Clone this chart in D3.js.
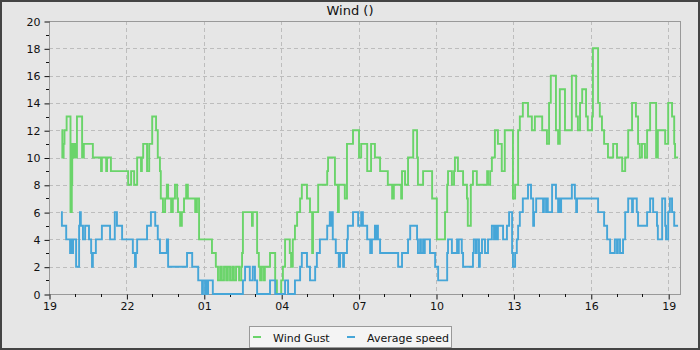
<!DOCTYPE html>
<html><head><meta charset="utf-8">
<script src="https://cdn.jsdelivr.net/npm/d3@7"></script>
<style>html,body{margin:0;padding:0;background:#e6e6e6;}svg{display:block;font-family:"DejaVu Sans",sans-serif;}</style>
</head><body>
<svg id="c" width="700" height="350"></svg>
<script>
const title = "Wind ()";
const seriesNames = ["Wind Gust", "Average speed"];
const seriesColors = ["#6ad46a", "#46a6d8"];
const yTicks = [0,2,4,6,8,10,12,14,16,18,20];
const xTickHours = [0,3,6,9,12,15,18,21,24]; // hours after 19:00 -> labels 19,22,01,...
// minutes after 19:00 where the value changes, and the value from then on
const gustMin = [29,31,34,36,41,50,53,54,57,59,63,65,77,81,102,121,123,133,135,144,184,191,198,205,214,216,219,228,233,240,249,253,258,260,265,270,274,277,284,288,293,298,300,305,309,314,319,323,340,344,349,379,388,393,398,402,407,412,416,421,426,430,435,442,447,449,451,472,474,484,488,491,495,500,502,514,526,530,540,544,549,560,563,567,572,577,584,588,600,607,612,614,626,647,649,665,672,674,688,693,707,721,726,740,749,758,770,788,798,802,819,821,828,835,847,856,858,870,891,902,921,926,928,937,942,944,951,963,972,974,981,986,995,1019,1021,1026,1030,1037,1044,1053,1060,1079,1084,1091,1095,1102,1114,1123,1130,1147,1158,1163,1167,1179,1184,1188,1200,1216,1226,1230,1235,1240,1249,1253,1263,1265,1277,1281,1286,1291,1300,1312,1321,1333,1340,1347,1356,1365,1370,1374,1379,1386,1391,1398,1412,1416,1433,1440,1449,1454,1456,1463];
const gustVal = [12,10,11,12,13,6,8,11,10,11,10,13,10,11,10,9,10,9,10,9,8,9,8,10,9,10,11,9,11,13,12,10,9,7,6,7,8,7,6,7,8,7,6,5,6,7,8,7,6,7,4,3,2,1,2,1,2,1,2,1,2,1,2,1,2,3,6,5,6,3,2,1,2,1,2,3,1,0,1,2,4,3,2,4,5,6,7,8,7,6,3,6,8,9,10,8,6,8,7,11,12,10,11,9,11,10,9,8,7,8,7,9,8,10,12,10,8,9,7,4,6,8,9,8,9,10,9,8,7,5,8,9,8,9,8,9,10,12,11,9,12,7,8,12,13,14,13,12,13,12,11,14,16,12,11,15,12,16,13,12,14,15,13,12,13,18,14,13,12,11,10,11,10,9,10,12,14,13,11,10,11,10,12,14,10,12,11,14,13,11,10,10];
const avgMin = [28,30,40,49,51,53,56,63,70,72,74,79,84,93,98,100,102,109,123,142,153,158,170,195,200,202,205,228,237,247,253,258,274,277,321,333,347,356,358,363,365,367,370,381,451,456,467,474,479,484,514,526,549,556,572,584,588,600,607,619,623,630,647,653,656,658,660,667,674,677,684,686,693,695,707,719,726,730,740,747,751,758,760,763,765,770,812,821,835,840,856,858,863,865,870,872,874,886,898,905,926,928,937,949,951,953,960,963,986,988,993,995,1000,1002,1007,1014,1021,1030,1035,1037,1040,1044,1056,1065,1070,1077,1079,1084,1088,1091,1095,1102,1114,1121,1126,1128,1133,1149,1151,1156,1158,1160,1170,1179,1184,1186,1188,1191,1216,1223,1226,1228,1277,1291,1298,1305,1316,1321,1323,1328,1335,1340,1347,1356,1358,1367,1370,1391,1398,1405,1414,1416,1426,1433,1435,1440,1444,1449,1454,1463];
const avgVal = [6,5,4,3,4,3,4,2,5,6,5,4,5,4,3,2,3,4,5,4,6,5,4,3,2,3,4,5,6,5,4,3,4,2,3,2,1,0,1,0,1,0,1,0,1,2,1,2,1,0,1,0,1,0,1,2,3,2,1,2,3,4,5,6,5,6,4,3,2,3,2,3,4,5,6,5,6,5,4,3,4,5,4,5,4,3,2,3,4,5,4,3,4,3,4,3,4,3,2,1,3,4,3,4,3,4,3,2,3,4,3,4,2,3,4,3,4,5,4,5,4,5,4,5,6,3,2,3,4,5,6,7,8,7,5,6,7,6,7,6,7,6,8,7,6,7,6,7,8,7,6,7,6,5,4,3,4,3,4,3,4,6,7,6,7,6,5,6,7,6,5,4,7,5,4,6,7,6,5,5];

const W = 700, H = 350;
const m = {left: 49, top: 21, right: 680, bottom: 294};
const base = new Date(2020, 0, 1, 19, 0);
const t = mm => new Date(base.getTime() + mm * 60000);
const svg = d3.select("#c");

svg.append("rect").attr("x", 1).attr("y", 1).attr("width", W - 2).attr("height", H - 2)
  .attr("fill", "#e6e6e6").attr("stroke", "#444").attr("stroke-width", 2);

const x = d3.scaleTime().domain([base, t(1467.5)]).range([m.left, m.right]);
const y = d3.scaleLinear().domain([0, 20]).range([m.bottom, m.top]);

const majorX = xTickHours.map(h => t(h * 60));
const minorX = d3.range(0, 25).filter(h => h % 3 !== 0).map(h => t(h * 60));

// grid
svg.append("g").selectAll("line").data(yTicks.filter(v => v > 0 && v < 20)).join("line")
  .attr("x1", m.left).attr("x2", m.right).attr("y1", d => Math.round(y(d)) + 0.5).attr("y2", d => Math.round(y(d)) + 0.5)
  .attr("stroke", "#bdbdbd").attr("stroke-dasharray", "4,3");
svg.append("g").selectAll("line").data(majorX.slice(1)).join("line")
  .attr("x1", d => Math.round(x(d)) + 0.5).attr("x2", d => Math.round(x(d)) + 0.5)
  .attr("y1", m.top).attr("y2", m.bottom)
  .attr("stroke", "#bdbdbd").attr("stroke-dasharray", "4,3");

// frame
svg.append("rect").attr("x", m.left + 0.5).attr("y", m.top + 0.5)
  .attr("width", m.right - m.left).attr("height", m.bottom - m.top)
  .attr("fill", "none").attr("stroke", "#999");

// axes
const yAxis = d3.axisLeft(y).tickValues(yTicks).tickSize(5).tickPadding(4).tickFormat(d3.format("d"));
const gy = svg.append("g").attr("transform", `translate(${m.left + 0.5},0.5)`).call(yAxis);
gy.select(".domain").remove();
gy.selectAll("text").attr("font-size", 11).attr("fill", "#111").attr("font-family", "DejaVu Sans");
gy.selectAll("line").attr("stroke", "#111");
const yMinor = d3.range(1, 20, 2);
svg.append("g").selectAll("line").data(yMinor).join("line")
  .attr("x1", m.left - 3).attr("x2", m.left).attr("y1", d => Math.round(y(d)) + 0.5).attr("y2", d => Math.round(y(d)) + 0.5)
  .attr("stroke", "#111");

const xAxis = d3.axisBottom(x).tickValues(majorX).tickSize(5).tickPadding(3).tickFormat(d3.timeFormat("%H"));
const gx = svg.append("g").attr("transform", `translate(0.5,${m.bottom + 0.5})`).call(xAxis);
gx.select(".domain").remove();
gx.selectAll("text").attr("font-size", 11).attr("fill", "#111").attr("font-family", "DejaVu Sans");
gx.selectAll("line").attr("stroke", "#111");
svg.append("g").selectAll("line").data(minorX).join("line")
  .attr("x1", d => Math.round(x(d)) + 0.5).attr("x2", d => Math.round(x(d)) + 0.5)
  .attr("y1", m.bottom).attr("y2", m.bottom + 3).attr("stroke", "#111");

// series
const line = d3.line().x(d => x(t(d[0]))).y(d => y(d[1])).curve(d3.curveStepAfter);
[[gustMin, gustVal], [avgMin, avgVal]].forEach(([tm, vals], i) => {
  const pts = tm.map((mm, k) => [mm, vals[k]]);
  svg.append("path").datum(pts).attr("d", line).attr("fill", "none")
    .attr("stroke", seriesColors[i]).attr("stroke-width", 1.9);
});

// title
svg.append("text").attr("x", 350).attr("y", 15).attr("text-anchor", "middle")
  .attr("font-size", 13).attr("fill", "#111").text(title);

// legend
const lg = svg.append("g");
lg.append("rect").attr("x", 249.5).attr("y", 326.5).attr("width", 202).attr("height", 21)
  .attr("fill", "#f4f4f4").attr("stroke", "#999");
const lx = [253, 347];
seriesNames.forEach((n, i) => {
  lg.append("line").attr("x1", lx[i]).attr("x2", lx[i] + 8).attr("y1", 337).attr("y2", 337)
    .attr("stroke", seriesColors[i]).attr("stroke-width", 2);
  lg.append("text").attr("x", lx[i] + 20).attr("y", 341.5).attr("font-size", 11).attr("fill", "#111").text(n);
});
</script>
</body></html>
